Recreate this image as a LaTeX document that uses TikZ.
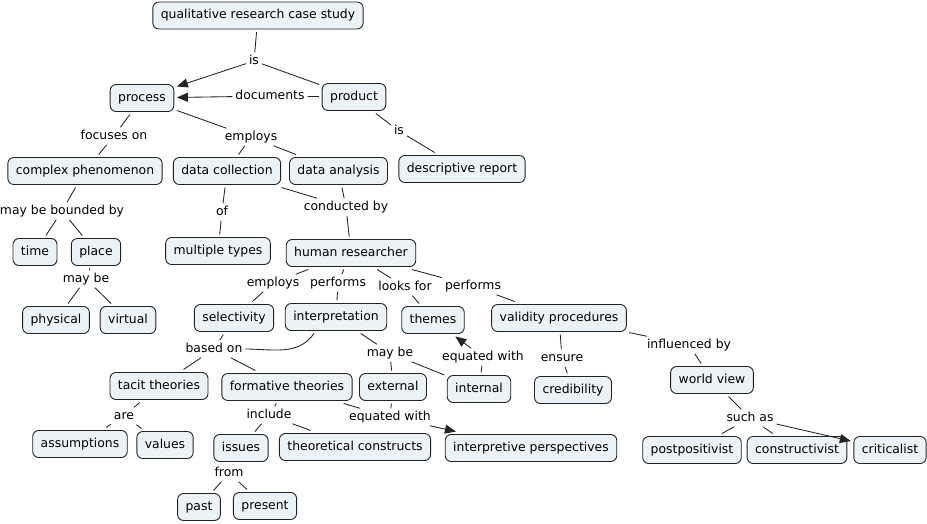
\documentclass[tikz,border=0pt]{standalone}
\usepackage{fontspec}
\setmainfont{DejaVu Sans}
\usetikzlibrary{arrows.meta}
\definecolor{boxfill}{RGB}{236,243,246}
\definecolor{lineclr}{RGB}{35,35,35}
\begin{document}
\begin{tikzpicture}[x=1pt,y=-1pt,
  concept/.style={draw=lineclr, fill=boxfill, rounded corners=6pt, line width=0.9pt,
    font=\fontsize{12.4}{14}\selectfont, text height=9pt, text depth=3pt,
    inner xsep=8pt, inner ysep=7.5pt, outer sep=3pt},
  linklabel/.style={font=\fontsize{12.4}{14}\selectfont, text height=9pt, text depth=2.5pt,
    inner sep=1pt, outer sep=2pt},
  conn/.style={draw=lineclr, line width=0.85pt},
  arr/.style={conn, -{Triangle[length=11pt,width=9pt]}}]
\path[use as bounding box, fill=white] (0,0) rectangle (927,523);

% concepts
\node[concept] (qrcs) at (258,15.5) {qualitative research case study};
\node[concept] (process) at (142,98) {process};
\node[concept] (product) at (354,97) {product};
\node[concept] (descr) at (462,169) {descriptive report};
\node[concept] (complex) at (85,171) {complex phenomenon};
\node[concept] (datacoll) at (227,171) {data collection};
\node[concept] (dataanal) at (338.5,171) {data analysis};
\node[concept] (time) at (35,252) {time};
\node[concept] (place) at (96,252) {place};
\node[concept] (multiple) at (218,251) {multiple types};
\node[concept] (human) at (351,253) {human researcher};
\node[concept] (physical) at (56,320) {physical};
\node[concept] (virtual) at (128,320) {virtual};
\node[concept] (select) at (234,318) {selectivity};
\node[concept] (interp) at (336,317) {interpretation};
\node[concept] (themes) at (433,320) {themes};
\node[concept] (validity) at (559,318) {validity procedures};
\node[concept] (tacit) at (159,386) {tacit theories};
\node[concept] (formative) at (287,387) {formative theories};
\node[concept] (external) at (393,387) {external};
\node[concept] (internal) at (479,389) {internal};
\node[concept] (cred) at (573,390) {credibility};
\node[concept] (world) at (712,380) {world view};
\node[concept] (assump) at (80,444) {assumptions};
\node[concept] (values) at (165,445) {values};
\node[concept] (issues) at (241,448) {issues};
\node[concept] (theoret) at (355,447) {theoretical constructs};
\node[concept] (interpper) at (531,448) {interpretive perspectives};
\node[concept] (postpos) at (692,450) {postpositivist};
\node[concept] (construct) at (797,450) {constructivist};
\node[concept] (critical) at (890,450) {criticalist};
\node[concept] (past) at (199,507) {past};
\node[concept] (present) at (265,506) {present};

% linking phrases
\node[linklabel] (is1) at (254,61) {is};
\node[linklabel] (documents) at (270,96) {documents};
\node[linklabel] (is2) at (399,131) {is};
\node[linklabel] (focuses) at (114,136) {focuses on};
\node[linklabel] (employs1) at (251,137) {employs};
\node[linklabel] (bounded) at (62,211) {may be bounded by};
\node[linklabel] (of) at (222,212) {of};
\node[linklabel] (conducted) at (346,207) {conducted by};
\node[linklabel] (maybe1) at (86,279) {may be};
\node[linklabel] (employs2) at (273,283) {employs};
\node[linklabel] (performs1) at (338,283) {performs};
\node[linklabel] (looks) at (405,287) {looks for};
\node[linklabel] (performs2) at (473,286) {performs};
\node[linklabel] (basedon) at (214,349) {based on};
\node[linklabel] (maybe2) at (390,353) {may be};
\node[linklabel] (equated1) at (483,357) {equated with};
\node[linklabel] (ensure) at (562,358) {ensure};
\node[linklabel] (influenced) at (689,345) {influenced by};
\node[linklabel] (are) at (124,416) {are};
\node[linklabel] (include) at (269,415) {include};
\node[linklabel] (equated2) at (390,417) {equated with};
\node[linklabel] (suchas) at (750,418) {such as};
\node[linklabel] (from) at (229,473) {from};

% connectors
\draw[conn] (qrcs) -- (is1);
\draw[arr] (is1) -- (process);
\draw[conn] (is1) -- (product);
\draw[conn] (product) -- (documents);
\draw[arr] (documents) -- (process);
\draw[conn] (product) -- (is2);
\draw[conn] (is2) -- (descr);
\draw[conn] (process) -- (focuses);
\draw[conn] (focuses) -- (complex);
\draw[conn] (process) -- (employs1);
\draw[conn] (employs1) -- (datacoll);
\draw[conn] (employs1) -- (dataanal);
\draw[conn] (complex) -- (bounded);
\draw[conn] (bounded) -- (time);
\draw[conn] (bounded) -- (place);
\draw[conn] (place) -- (maybe1);
\draw[conn] (maybe1) -- (physical);
\draw[conn] (maybe1) -- (virtual);
\draw[conn] (datacoll) -- (of);
\draw[conn] (of) -- (multiple);
\draw[conn] (datacoll) -- (conducted);
\draw[conn] (dataanal) -- (conducted);
\draw[conn] (conducted) -- (human);
\draw[conn] (human) -- (employs2);
\draw[conn] (employs2) -- (select);
\draw[conn] (human) -- (performs1);
\draw[conn] (performs1) -- (interp);
\draw[conn] (human) -- (looks);
\draw[conn] (looks) -- (themes);
\draw[conn] (human) -- (performs2);
\draw[conn] (performs2) -- (validity);
\draw[conn] (select) -- (basedon);
\draw[conn] ([xshift=-22pt]interp.south) to[out=235, in=0] (basedon.east);
\draw[conn] (basedon) -- (tacit);
\draw[conn] (basedon) -- (formative);
\draw[conn] (interp) -- (maybe2);
\draw[conn] (maybe2) -- (external);
\draw[conn] (maybe2) -- (internal);
\draw[conn] (internal) -- (equated1);
\draw[arr] (equated1) -- (themes);
\draw[conn] (validity) -- (ensure);
\draw[conn] (ensure) -- (cred);
\draw[conn] (validity) -- (influenced);
\draw[conn] (influenced) -- (world);
\draw[conn] (world) -- (suchas);
\draw[conn] (suchas) -- (postpos);
\draw[conn] (suchas) -- (construct);
\draw[arr] (suchas) -- (critical);
\draw[conn] (tacit) -- (are);
\draw[conn] (are) -- (assump);
\draw[conn] (are) -- (values);
\draw[conn] (formative) -- (include);
\draw[conn] (include) -- (issues);
\draw[conn] (include) -- (theoret);
\draw[conn] (formative) -- (equated2);
\draw[conn] (external) -- (equated2);
\draw[arr] (equated2) -- (interpper);
\draw[conn] (issues) -- (from);
\draw[conn] (from) -- (past);
\draw[conn] (from) -- (present);
\end{tikzpicture}
\end{document}
